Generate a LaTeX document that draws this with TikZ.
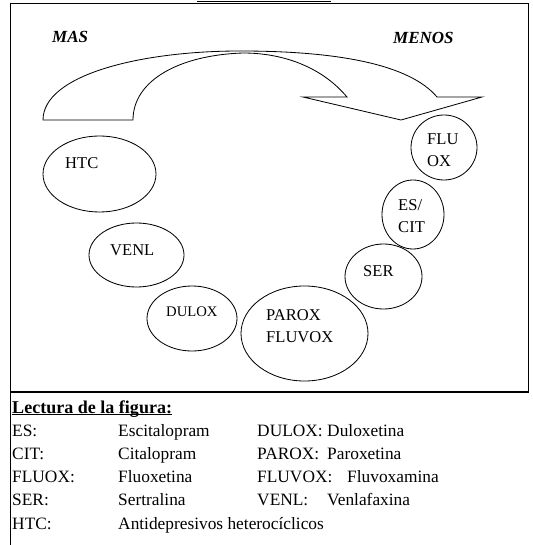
\documentclass[tikz,border=0pt]{standalone}
\usepackage{fontspec}
\setmainfont{Liberation Serif}
\usetikzlibrary{shapes.geometric}

\newcommand{\lecturaul}[1]{\setbox0\hbox{#1}\rlap{\rule[-1.8pt]{\wd0}{0.8pt}}\box0}

\begin{document}
\begin{tikzpicture}[x=0.03cm,y=-0.03cm]
    \useasboundingbox (0,0) rectangle (532,545);

    \tikzset{droga/.style={draw,ellipse,inner sep=0pt,outer sep=0pt,line width=0.7pt},
             etiq/.style={inner sep=0pt,align=left,font=\fontsize{14.1}{18.8}\selectfont},
             leyenda/.style={anchor=base west,inner sep=0pt,font=\fontsize{14.8}{19}\selectfont},
             extremo/.style={anchor=base west,inner sep=0pt,font=\fontsize{14.5}{17}\selectfont\bfseries\itshape}}

    % marco
    \draw[line width=0.9pt] (10.5,545) -- (10.5,3.5) -- (528.5,3.5) -- (528.5,392) -- (10.5,392);
    \draw[line width=0.6pt] (197,1) -- (331,1);

    \node[extremo] (mas) at (52,43) {MAS};
    \node[extremo] (menos) at (393,43.5) {MENOS};

    % flecha curva
    \draw[line width=0.7pt,line join=miter] (43,120) .. controls (43,75) and (140,51) .. (240,51)
        .. controls (340,51) and (410,65) .. (437,97)
        -- (482,97) -- (401,120) -- (303,97) -- (347,97)
        .. controls (320,65) and (280,53) .. (243,53)
        .. controls (180,55) and (133,80) .. (133,120) -- cycle;

    \node[droga,minimum width=3.39cm,minimum height=2.28cm] (htc) at (99.5,174) {};
    \node[droga,minimum width=2.85cm,minimum height=1.92cm] (venl) at (136.5,255) {};
    \node[droga,minimum width=2.70cm,minimum height=1.95cm] (dulox) at (192,318.5) {};
    \node[droga,minimum width=3.81cm,minimum height=2.85cm] (parox) at (304.5,333.5) {};
    \node[droga,minimum width=2.31cm,minimum height=1.95cm] (ser) at (383.5,276.5) {};
    \node[droga,minimum width=1.86cm,minimum height=2.07cm] (escit) at (413,214.5) {};
    \node[droga,minimum width=1.98cm,minimum height=1.95cm] (fluox) at (444,147.5) {};

    \node[etiq,anchor=base west] (htcT) at (65,169) {HTC};
    \node[etiq,anchor=base west] (venlT) at (110,255) {VENL};
    \node[etiq,anchor=base west,font=\fontsize{12.5}{15}\selectfont] (duloxT) at (166,316) {DULOX};
    \node[etiq,anchor=west] (paroxT) at (266,326) {PAROX\\FLUVOX};
    \node[etiq,anchor=base west] (serT) at (363,276) {SER};
    \node[etiq,anchor=west] (escitT) at (398,216.5) {ES/\\CIT};
    \node[etiq,anchor=west] (fluoxT) at (427,150.5) {FLU\\OX};

    % lectura
    \node[leyenda,font=\fontsize{15.4}{19}\selectfont] (titulo) at (12,413) {\lecturaul{\bfseries Lectura de la figura:}};

    \node[leyenda] (es) at (12,436) {ES:};
    \node[leyenda] (esN) at (118,436) {Escitalopram};
    \node[leyenda] (dul) at (257,436) {DULOX:};
    \node[leyenda] (dulN) at (327,436) {Duloxetina};

    \node[leyenda] (cit) at (12,459) {CIT:};
    \node[leyenda] (citN) at (118,459) {Citalopram};
    \node[leyenda] (par) at (257,459) {PAROX:};
    \node[leyenda] (parN) at (327,459) {Paroxetina};

    \node[leyenda] (flx) at (12,482) {FLUOX:};
    \node[leyenda] (flxN) at (118,482) {Fluoxetina};
    \node[leyenda] (flv) at (257,482) {FLUVOX:};
    \node[leyenda] (flvN) at (347,482) {Fluvoxamina};

    \node[leyenda] (sr) at (12,505) {SER:};
    \node[leyenda] (srN) at (118,505) {Sertralina};
    \node[leyenda] (vnl) at (257,505) {VENL:};
    \node[leyenda] (vnlN) at (327,505) {Venlafaxina};

    \node[leyenda] (ht) at (12,529) {HTC:};
    \node[leyenda] (htN) at (118,529) {Antidepresivos heterocíclicos};
\end{tikzpicture}
\end{document}
